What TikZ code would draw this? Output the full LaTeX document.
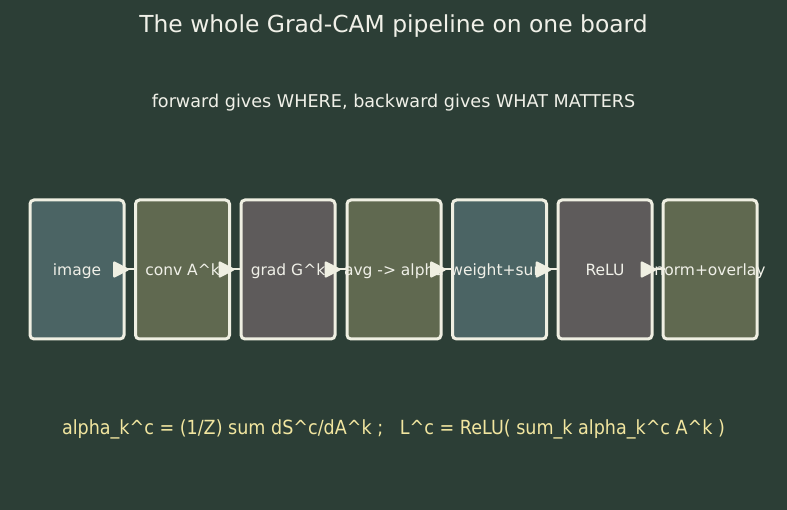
\documentclass[tikz,border=0pt]{standalone}
\usepackage{fontspec}
\setmainfont{DejaVu Sans}
\newfontfamily\condfont[FakeStretch=0.9]{DejaVu Sans}
\usetikzlibrary{arrows.meta}
\definecolor{bg}{HTML}{2C3E36}
\definecolor{bteal}{HTML}{4B6464}
\definecolor{bolive}{HTML}{606950}
\definecolor{bgrey}{HTML}{5E5B5B}
\definecolor{edge}{HTML}{EFEFE2}
\definecolor{txt}{HTML}{F0F0E8}
\definecolor{formula}{HTML}{F2E6A0}
\tikzset{
  stagebox/.style={draw=edge, line width=3pt, rounded corners=4pt,
    minimum width=94pt, minimum height=139pt, inner sep=0pt,
    text height=13.5pt, text depth=1.5pt,
    text=txt, font=\fontsize{15.5}{18}\selectfont},
  arr/.style={draw=edge, fill=edge, line width=2pt,
    -{Triangle[length=17pt,width=17pt,round]},
    shorten <=-11pt, shorten >=5pt},
}
\newcommand{\lbl}[1]{\makebox[0pt]{#1}}
\begin{document}
\begin{tikzpicture}[x=1pt,y=-1pt]
\useasboundingbox (0,0) rectangle (787,510);
\fill[bg] (0,0) rectangle (787,510);
\node[text=txt, font=\fontsize{23.4}{27}\selectfont] (title) at (393.5,26) {The whole Grad-CAM pipeline on one board};
\node[text=txt, font=\fontsize{17.6}{21}\selectfont] (sub) at (393.5,103) {forward gives WHERE, backward gives WHAT MATTERS};
\node[stagebox, fill=bteal] (b1) at (77,269.5) {\lbl{image}};
\node[stagebox, fill=bolive] (b2) at (182.5,269.5) {\lbl{conv A\^{}k}};
\node[stagebox, fill=bgrey] (b3) at (288,269.5) {\lbl{grad G\^{}k}};
\node[stagebox, fill=bolive] (b4) at (394,269.5) {\lbl{avg -> alpha}};
\node[stagebox, fill=bteal] (b5) at (499.5,269.5) {\lbl{weight+sum}};
\node[stagebox, fill=bgrey] (b6) at (605,269.5) {\lbl{ReLU}};
\node[stagebox, fill=bolive] (b7) at (710,269.5) {\lbl{norm+overlay}};
\foreach \a/\b in {b1/b2,b2/b3,b3/b4,b4/b5,b5/b6,b6/b7}
  \draw[arr] (\a.east) -- (\b.west);
\node[text=formula, font=\condfont\fontsize{19.5}{23}\selectfont] (f) at (393.5,429) {alpha\_k\^{}c = (1/Z) sum dS\^{}c/dA\^{}k ;\ \ \ L\^{}c = ReLU( sum\_k alpha\_k\^{}c A\^{}k )};
\end{tikzpicture}
\end{document}
